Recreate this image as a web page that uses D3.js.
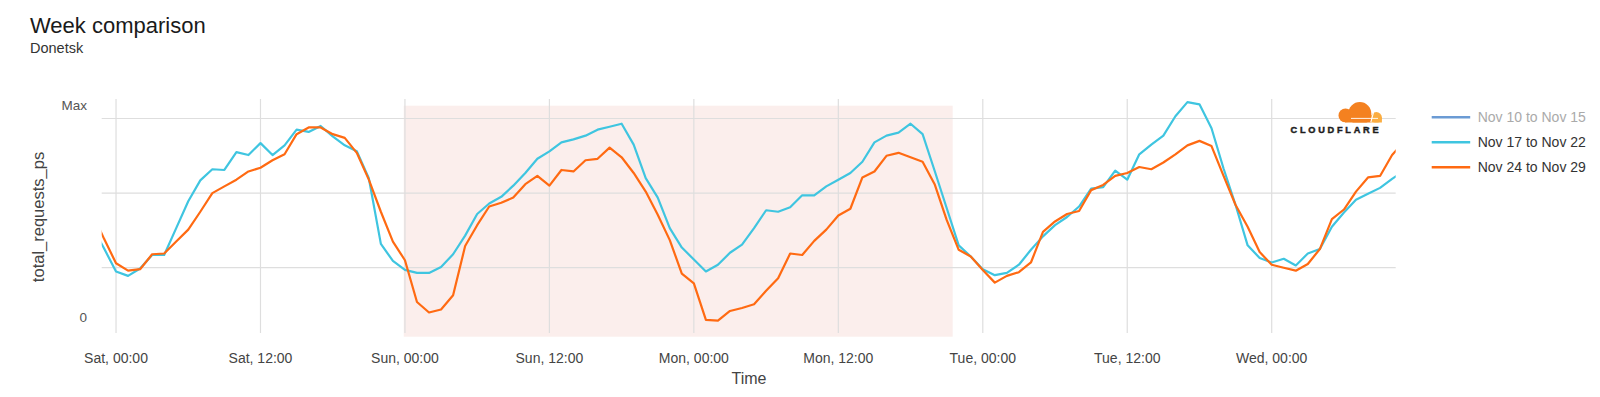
<!DOCTYPE html>
<html><head><meta charset="utf-8">
<script src="https://cdn.jsdelivr.net/npm/d3@7"></script>
<style>
html,body{margin:0;padding:0;background:#fff;}
svg{display:block;font-family:"Liberation Sans",Arial,Helvetica,sans-serif;}
</style></head><body>
<svg id="c" width="1600" height="397"></svg>
<script>
// ---------- data ----------
const firstHour = -2; // hours relative to Sat 00:00, hourly samples
const tickHours = [0, 12, 24, 36, 48, 60, 72, 84, 96];
const tickLabels = ["Sat, 00:00","Sat, 12:00","Sun, 00:00","Sun, 12:00","Mon, 00:00","Mon, 12:00","Tue, 00:00","Tue, 12:00","Wed, 00:00"];
const seriesNames = ["Nov 10 to Nov 15","Nov 17 to Nov 22","Nov 24 to Nov 29"];
const seriesVisible = [false, true, true];
const nov17 = [156,126,95,89,99,117,117,153,189,217,
  232,231,255,251,267,251,264,285,282,290,
  276,264,256,220,132,109,97,93,93,101,
  118,143,172,186,195,210,227,246,256,268,
  272,277,285,289,293,265,220,194,153,127,
  111,95,104,120,131,153,177,175,181,197,
  197,209,218,227,242,268,277,281,293,279,
  230,180,130,115,98,90,93,104,124,142,
  157,168,182,206,208,230,218,252,265,277,
  303,322,319,287,233,184,130,113,107,112,
  103,119,125,155,174,191,199,207,219,230];
const nov24 = [174,139,106,96,98,118,119,135,151,175,
  200,209,218,229,234,244,252,279,288,288,
  279,274,254,218,175,135,110,54,40,44,
  63,129,157,182,187,194,212,223,210,231,
  229,244,246,261,248,227,202,171,137,92,
  79,30,29,42,46,51,69,86,119,117,
  136,151,170,179,221,229,250,254,248,242,
  212,164,124,115,97,80,89,94,107,148,
  162,172,176,204,211,223,227,235,232,241,
  252,264,270,263,223,184,155,121,104,100,
  96,105,125,165,178,202,221,223,251,269];
const gridValues = [100, 200, 300];
const highlightHours = [23.9, 69.5];
const yLabels = ["Max", "0"];

// ---------- layout ----------
const colors = ["#6b9bd4", "#3fc5e0", "#ff6a12"];
const L = 101.7, R = 1395.7, T = 99, B = 333;
const svg = d3.select("#c");
const defs = svg.append("defs");

const x = d3.scaleLinear().domain([-1.19, 106.3]).range([L, R]);
const y = d3.scaleLinear().domain([0, 300]).range([342.3, 118.5]);

// highlight band
svg.append("rect")
  .attr("x", x(highlightHours[0])).attr("width", x(highlightHours[1]) - x(highlightHours[0]))
  .attr("y", 105.7).attr("height", 231)
  .attr("fill", "#fbeeec");

// horizontal grid
svg.append("g").selectAll("line").data(gridValues).join("line")
  .attr("x1", L).attr("x2", R)
  .attr("y1", d => y(d)).attr("y2", d => y(d))
  .attr("stroke", "#dedede").attr("stroke-width", 1.2);

// vertical grid
svg.append("g").selectAll("line").data(tickHours).join("line")
  .attr("x1", d => x(d)).attr("x2", d => x(d))
  .attr("y1", T).attr("y2", B)
  .attr("stroke", "#dedede").attr("stroke-width", 1.2);

// x tick labels
svg.append("g").selectAll("text").data(tickHours).join("text")
  .attr("x", d => x(d)).attr("y", 363)
  .attr("text-anchor", "middle").attr("font-size", 14).attr("fill", "#444")
  .text((d, i) => tickLabels[i]);

// y labels
svg.append("text").attr("x", 87).attr("y", T + 11).attr("text-anchor", "end")
  .attr("font-size", 13.5).attr("fill", "#555").text(yLabels[0]);
svg.append("text").attr("x", 87).attr("y", B - 11).attr("text-anchor", "end")
  .attr("font-size", 13.5).attr("fill", "#555").text(yLabels[1]);

// axis titles
svg.append("text").attr("transform", "translate(44,217) rotate(-90)")
  .attr("text-anchor", "middle").attr("font-size", 16.5).attr("fill", "#444")
  .text("total_requests_ps");
svg.append("text").attr("x", 749).attr("y", 384).attr("text-anchor", "middle")
  .attr("font-size", 16).attr("fill", "#444").text("Time");

// title
svg.append("text").attr("x", 30).attr("y", 33).attr("font-size", 22).attr("fill", "#1a1a1a").text("Week comparison");
svg.append("text").attr("x", 30).attr("y", 52.5).attr("font-size", 14.5).attr("fill", "#333").text("Donetsk");

// lines
defs.append("clipPath").attr("id", "plotclip")
  .append("rect").attr("x", L).attr("y", 90).attr("width", R - L).attr("height", 260);
const line = d3.line().x((d, i) => x(firstHour + i)).y(d => y(d));
const lg = svg.append("g").attr("clip-path", "url(#plotclip)");
[[nov17, 1], [nov24, 2]].forEach(([data, ci]) => {
  lg.append("path").datum(data).attr("d", line)
    .attr("fill", "none").attr("stroke", colors[ci]).attr("stroke-width", 2.2)
    .attr("stroke-linejoin", "round");
});

// logo
const logo = svg.append("g");
defs.append("clipPath").attr("id", "logoclip").append("rect")
  .attr("x", 1330).attr("y", 95).attr("width", 60).attr("height", 27.6);
const lc = logo.append("g").attr("clip-path", "url(#logoclip)");
lc.append("circle").attr("cx", 1376.3).attr("cy", 117.6).attr("r", 5.6).attr("fill", "#fbad41");
lc.append("rect").attr("x", 1370).attr("y", 117.6).attr("width", 11.9).attr("height", 6).attr("fill", "#fbad41");
lc.append("circle").attr("cx", 1345.5).attr("cy", 115.5).attr("r", 7).attr("fill", "#f48120");
lc.append("circle").attr("cx", 1359.8).attr("cy", 113.6).attr("r", 11.5).attr("fill", "#f48120");
lc.append("rect").attr("x", 1345).attr("y", 115).attr("width", 26).attr("height", 9).attr("fill", "#f48120");
lc.append("path").attr("d", "M1351,118.4 L1378,118.4").attr("stroke", "#fff").attr("stroke-width", 0.9);
lc.append("path").attr("d", "M1370.6,123 L1373.6,112").attr("stroke", "#fff").attr("stroke-width", 1.1);
logo.append("text").attr("x", 1290.5).attr("y", 132.8).attr("font-size", 9.2).attr("font-weight", "bold")
  .attr("letter-spacing", 2.75).attr("fill", "#1d1d1d")
  .attr("stroke", "#1d1d1d").attr("stroke-width", 0.45).text("CLOUDFLARE");

// legend
const leg = svg.append("g").selectAll("g").data(seriesNames).join("g")
  .attr("transform", (d, i) => `translate(1431.7,${117.3 + i * 25})`);
leg.append("line").attr("x1", 0).attr("x2", 38.5).attr("y1", 0).attr("y2", 0)
  .attr("stroke", (d, i) => colors[i]).attr("stroke-width", 2.5);
leg.append("text").attr("x", 46).attr("y", 5).attr("font-size", 14)
  .attr("fill", (d, i) => seriesVisible[i] ? "#333" : "#aaa").text(d => d);
</script>
</body></html>
